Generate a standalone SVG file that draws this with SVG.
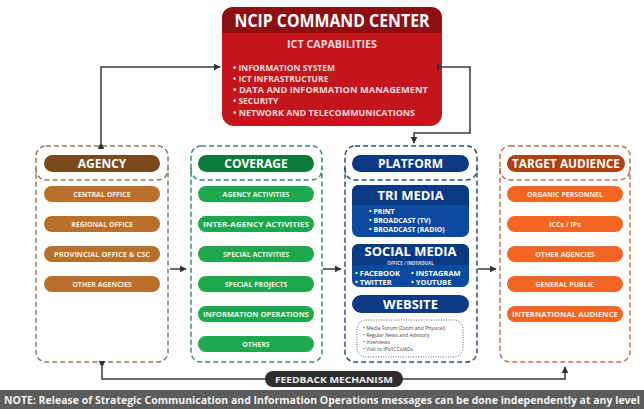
<svg xmlns="http://www.w3.org/2000/svg" width="644" height="409" viewBox="0 0 644 409">
<defs>
<marker id="ah" viewBox="0 0 10 10" refX="9" refY="5" markerWidth="7" markerHeight="7" markerUnits="userSpaceOnUse" orient="auto"><path d="M0,0 L10,5 L0,10 z" fill="#333"/></marker>
<style>
text{font-family:"Open Sans","Liberation Sans",sans-serif;font-weight:bold;fill:#fff}
.c{text-anchor:middle}
.conn{fill:none;stroke:#3a3a3a;stroke-width:1.5}
.item{font-size:7px;fill:#fbeee0}
.gi{fill:#e6f6ea}
.hd{font-size:12px}
.ict{font-size:8.5px;fill:#f8d9d9}
.web{font-size:5px;font-weight:normal;fill:#444}
.dash{fill:none;stroke-width:1.5;stroke-dasharray:5,3}
</style>
</defs>
<rect width="644" height="409" fill="#fff"/>

<g id="command-center">
<rect x="222" y="7" width="220" height="119" rx="12" fill="#c3151c"/>
<path d="M234,7 H430 Q442,7 442,19 V33 H222 V19 Q222,7 234,7 z" fill="#8c0f14"/>
<text x="332" y="27" class="c" font-size="17" textLength="195" lengthAdjust="spacingAndGlyphs">NCIP COMMAND CENTER</text>
<text x="332" y="48" class="c" font-size="10" textLength="90" lengthAdjust="spacingAndGlyphs" style="fill:#f6dcdc">ICT CAPABILITIES</text>
<text x="233" y="71" class="ict">• INFORMATION SYSTEM</text>
<text x="233" y="82" class="ict">• ICT INFRASTRUCTURE</text>
<text x="233" y="93" class="ict" textLength="195" lengthAdjust="spacingAndGlyphs">• DATA AND INFORMATION MANAGEMENT</text>
<text x="233" y="104" class="ict">• SECURITY</text>
<text x="233" y="116" class="ict" textLength="182" lengthAdjust="spacingAndGlyphs">• NETWORK AND TELECOMMUNICATIONS</text>
</g>

<g id="agency">
<rect x="36" y="146" width="132" height="216" rx="10" class="dash" stroke="#8a7a68"/>
<path d="M36,168 Q36,180 48,180 H156 Q168,180 168,168" class="dash" stroke="#8a7a68"/>
<rect x="44" y="155" width="116" height="17" rx="8.5" fill="#7b4a1c"/>
<text x="102" y="168" class="c hd">AGENCY</text>
<g fill="#b8702a">
<rect x="44" y="186" width="116" height="16" rx="8"/>
<rect x="44" y="216" width="116" height="16" rx="8"/>
<rect x="44" y="246" width="116" height="16" rx="8"/>
<rect x="44" y="276" width="116" height="16" rx="8"/>
</g>
<text x="102" y="197" class="c item">CENTRAL OFFICE</text>
<text x="102" y="227" class="c item">REGIONAL OFFICE</text>
<text x="102" y="257" class="c item" textLength="96" lengthAdjust="spacingAndGlyphs">PROVINCIAL OFFICE &amp; CSC</text>
<text x="102" y="287" class="c item">OTHER AGENCIES</text>
</g>

<g id="coverage">
<rect x="191" y="146" width="131" height="216" rx="10" class="dash" stroke="#3f8a70"/>
<path d="M191,168 Q191,180 203,180 H310 Q322,180 322,168" class="dash" stroke="#3f8a70"/>
<rect x="198" y="155" width="116" height="17" rx="8.5" fill="#0e7a3a"/>
<text x="256" y="168" class="c hd">COVERAGE</text>
<g fill="#1ea84d">
<rect x="198" y="186" width="116" height="16" rx="8"/>
<rect x="198" y="216" width="116" height="16" rx="8"/>
<rect x="198" y="246" width="116" height="16" rx="8"/>
<rect x="198" y="276" width="116" height="16" rx="8"/>
<rect x="198" y="306" width="116" height="16" rx="8"/>
<rect x="198" y="336" width="116" height="16" rx="8"/>
</g>
<text x="256" y="197" class="c item gi">AGENCY ACTIVITIES</text>
<text x="256" y="227" class="c item gi" textLength="106" lengthAdjust="spacingAndGlyphs">INTER-AGENCY ACTIVITIES</text>
<text x="256" y="257" class="c item gi">SPECIAL ACTIVITIES</text>
<text x="256" y="287" class="c item gi">SPECIAL PROJECTS</text>
<text x="256" y="317" class="c item gi" textLength="106" lengthAdjust="spacingAndGlyphs">INFORMATION OPERATIONS</text>
<text x="256" y="347" class="c item gi">OTHERS</text>
</g>

<g id="platform">
<rect x="345" y="146" width="132" height="216" rx="10" class="dash" stroke="#2c4c7c"/>
<path d="M345,168 Q345,180 357,180 H465 Q477,180 477,168" class="dash" stroke="#2c4c7c"/>
<rect x="352" y="155" width="117" height="17" rx="8.5" fill="#0e3a85"/>
<text x="410.5" y="168" class="c hd">PLATFORM</text>
<rect x="352" y="185" width="117" height="52" rx="7" fill="#0c4aa0"/>
<path d="M359,185 H462 Q469,185 469,192 V205 H352 V192 Q352,185 359,185 z" fill="#0b3a85"/>
<text x="410.5" y="200" class="c" font-size="13">TRI MEDIA</text>
<text x="369" y="214" font-size="7">• PRINT</text>
<text x="369" y="223" font-size="7">• BROADCAST (TV)</text>
<text x="369" y="232" font-size="7">• BROADCAST (RADIO)</text>
<rect x="352" y="244" width="117" height="43" rx="7" fill="#0c4aa0"/>
<path d="M359,244 H462 Q469,244 469,251 V265 H352 V251 Q352,244 359,244 z" fill="#0b3a85"/>
<text x="410.5" y="256" class="c" font-size="12" textLength="92" lengthAdjust="spacingAndGlyphs">SOCIAL MEDIA</text>
<text x="410.5" y="264.5" class="c" font-size="4.5" style="fill:#d8e2f2">OFFICE / INDIVIDUAL</text>
<text x="355" y="276" font-size="7.5">• FACEBOOK</text>
<text x="411" y="276" font-size="7.5">• INSTAGRAM</text>
<text x="355" y="285" font-size="7.5">• TWITTER</text>
<text x="411" y="285" font-size="7.5">• YOUTUBE</text>
<rect x="352" y="295" width="117" height="18" rx="9" fill="#0e3a85"/>
<text x="410.5" y="309" class="c" font-size="13">WEBSITE</text>
<rect x="357" y="320" width="106" height="37" rx="9" fill="none" stroke="#555" stroke-width="1" stroke-dasharray="1,1.5"/>
<text x="363" y="330" class="web">• Media Forum (Zoom and Physical)</text>
<text x="363" y="337" class="web">• Regular News and Advisory</text>
<text x="363" y="344" class="web">• Interviews</text>
<text x="363" y="351" class="web">• Visit to IPs/ICCs/ADs</text>
</g>

<g id="target-audience">
<rect x="500" y="146" width="130" height="216" rx="10" class="dash" stroke="#c07050"/>
<path d="M500,168 Q500,180 512,180 H618 Q630,180 630,168" class="dash" stroke="#c07050"/>
<rect x="507" y="155" width="118" height="17" rx="8.5" fill="#b0400f"/>
<text x="566" y="168" class="c hd" textLength="108" lengthAdjust="spacingAndGlyphs">TARGET AUDIENCE</text>
<g fill="#f26522">
<rect x="507" y="186" width="116" height="16" rx="8"/>
<rect x="507" y="216" width="116" height="16" rx="8"/>
<rect x="507" y="246" width="116" height="16" rx="8"/>
<rect x="507" y="276" width="116" height="16" rx="8"/>
<rect x="507" y="306" width="116" height="16" rx="8"/>
</g>
<text x="565" y="197" class="c item">ORGANIC PERSONNEL</text>
<text x="565" y="227" class="c item">ICCs / IPs</text>
<text x="565" y="257" class="c item">OTHER AGENCIES</text>
<text x="565" y="287" class="c item">GENERAL PUBLIC</text>
<text x="565" y="317" class="c item" textLength="106" lengthAdjust="spacingAndGlyphs">INTERNATIONAL AUDIENCE</text>
</g>

<g id="connectors">
<path d="M101,143 V67 H220" class="conn" marker-start="url(#ah)" marker-end="url(#ah)"/>
<path d="M443,67 H470 V133 H414 V143" class="conn" marker-start="url(#ah)" marker-end="url(#ah)"/>
<path d="M170,269 H186" class="conn" marker-end="url(#ah)"/>
<path d="M323,269 H341" class="conn" marker-end="url(#ah)"/>
<path d="M478,269 H496" class="conn" marker-end="url(#ah)"/>
<path d="M102,367 V379 H270" class="conn" marker-start="url(#ah)"/>
<path d="M400,379 H565 V367" class="conn" marker-end="url(#ah)"/>
</g>

<g id="feedback">
<rect x="265" y="371" width="138" height="16" rx="8" fill="#2e2e2e"/>
<text x="334" y="383" class="c" font-size="9.5" textLength="118" lengthAdjust="spacingAndGlyphs" style="fill:#eee">FEEDBACK MECHANISM</text>
</g>

<g id="note">
<rect x="0" y="390" width="644" height="19" fill="#5c5c5c"/>
<text x="4" y="404" font-size="10.5" textLength="636" lengthAdjust="spacingAndGlyphs" style="fill:#f2f2f2">NOTE: Release of Strategic Communication and Information Operations messages can be done independently at any level</text>
</g>
</svg>
